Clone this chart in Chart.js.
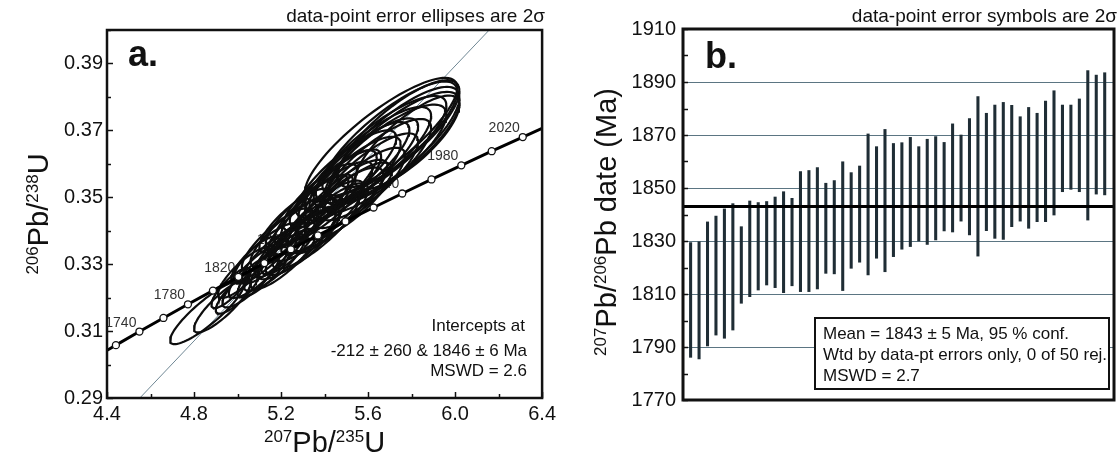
<!DOCTYPE html>
<html>
<head>
<meta charset="utf-8">
<script src="https://cdn.jsdelivr.net/npm/chart.js@4.4.1/dist/chart.umd.min.js"></script>
<style>
  html, body { margin: 0; padding: 0; background: #fff; }
  #wrap { position: relative; width: 1120px; height: 458px; background: #fff; }
  canvas { position: absolute; top: 0; }
  #concordiaChart { left: 0; }
  #ageChart { left: 560px; }
</style>
</head>
<body>
<div id="wrap">
  <canvas id="concordiaChart" width="560" height="458"></canvas>
  <canvas id="ageChart" width="560" height="458"></canvas>
</div>
<script>
const FONT = "'Liberation Sans', Arial, Helvetica, sans-serif";

// ---- panel a: concordia marks (Ma) with their 207Pb/235U and 206Pb/238U ratios
const concAge = [1700, 1720, 1740, 1760, 1780, 1800, 1820, 1840, 1860, 1880, 1900, 1920, 1940, 1960, 1980, 2000, 2020, 2040];
const conc207 = [4.3348, 4.4409, 4.5491, 4.6595, 4.7721, 4.8869, 5.0040, 5.1234, 5.2452, 5.3695, 5.4962, 5.6254, 5.7572, 5.8916, 6.0287, 6.1685, 6.3111, 6.4566];
const conc206 = [0.30175, 0.30580, 0.30986, 0.31393, 0.31801, 0.32211, 0.32621, 0.33033, 0.33447, 0.33861, 0.34277, 0.34695, 0.35113, 0.35533, 0.35954, 0.36377, 0.36800, 0.37225];
const concLabelAges = [1740, 1780, 1820, 1860, 1900, 1940, 1980, 2020];

// discordia (regression line) end points
const discX = [4.551, 6.157];
const discY = [0.29, 0.40];

// error ellipses (2 sigma): centre, half-widths, correlation
const ellX = [4.86, 4.93, 4.97, 5.00, 5.03, 5.06, 5.08, 5.10, 5.12, 5.13,
              5.15, 5.17, 5.18, 5.20, 5.21, 5.23, 5.24, 5.26, 5.27, 5.29,
              5.30, 5.32, 5.33, 5.35, 5.36, 5.38, 5.39, 5.41, 5.42, 5.44,
              5.45, 5.47, 5.48, 5.50, 5.51, 5.53, 5.55, 5.56, 5.58, 5.60,
              5.62, 5.64, 5.66, 5.68, 5.70, 5.72, 5.74, 5.66, 5.72, 5.78];
const ellY = [0.3156, 0.3176, 0.3229, 0.3217, 0.3274, 0.3251, 0.3313, 0.3284, 0.3276, 0.3332,
              0.3323, 0.3305, 0.3372, 0.3342, 0.3316, 0.3392, 0.3355, 0.3430, 0.3360, 0.3417,
              0.3368, 0.3455, 0.3405, 0.3463, 0.3402, 0.3500, 0.3440, 0.3487, 0.3437, 0.3525,
              0.3464, 0.3533, 0.3492, 0.3570, 0.3489, 0.3556, 0.3590, 0.3528, 0.3596, 0.3561,
              0.3620, 0.3594, 0.3643, 0.3627, 0.3676, 0.3650, 0.3690, 0.3672, 0.3660, 0.3664];
const ellSX = [0.17, 0.13, 0.09, 0.10, 0.12, 0.13, 0.11, 0.14, 0.12, 0.15,
               0.13, 0.14, 0.16, 0.12, 0.15, 0.17, 0.13, 0.16, 0.18, 0.15,
               0.17, 0.19, 0.16, 0.18, 0.20, 0.17, 0.19, 0.21, 0.18, 0.20,
               0.22, 0.19, 0.21, 0.23, 0.20, 0.22, 0.24, 0.21, 0.25, 0.23,
               0.27, 0.25, 0.30, 0.28, 0.31, 0.30, 0.28, 0.35, 0.30, 0.24];
const ellSY = [0.0095, 0.0080, 0.0060, 0.0065, 0.0075, 0.0080, 0.0070, 0.0085, 0.0075, 0.0090,
               0.0080, 0.0085, 0.0095, 0.0080, 0.0090, 0.0100, 0.0085, 0.0095, 0.0105, 0.0090,
               0.0100, 0.0110, 0.0095, 0.0105, 0.0115, 0.0100, 0.0110, 0.0120, 0.0105, 0.0115,
               0.0125, 0.0110, 0.0120, 0.0130, 0.0115, 0.0125, 0.0135, 0.0120, 0.0140, 0.0130,
               0.0150, 0.0140, 0.0160, 0.0150, 0.0170, 0.0165, 0.0160, 0.0185, 0.0170, 0.0140];
const ellRho = [0.88, 0.86, 0.83, 0.83, 0.84, 0.85, 0.83, 0.84, 0.83, 0.84,
                0.83, 0.84, 0.84, 0.82, 0.83, 0.84, 0.82, 0.83, 0.84, 0.82,
                0.83, 0.84, 0.82, 0.83, 0.84, 0.82, 0.83, 0.84, 0.82, 0.83,
                0.83, 0.81, 0.82, 0.83, 0.81, 0.82, 0.83, 0.81, 0.83, 0.81,
                0.82, 0.81, 0.82, 0.80, 0.82, 0.81, 0.80, 0.84, 0.81, 0.80];

// ---- panel b: 207Pb/206Pb dates, 2 sigma ranges (Ma), ranked
const ageLo = [1786.1, 1785.5, 1790.4, 1794.5, 1793.3, 1796.4, 1806.5, 1809.0, 1811.5, 1813.4,
               1812.4, 1810.5, 1813.1, 1810.9, 1810.9, 1811.9, 1817.8, 1817.6, 1811.3, 1819.7,
               1822.0, 1817.2, 1823.5, 1818.4, 1824.1, 1826.9, 1827.9, 1830.0, 1828.7, 1830.4,
               1833.8, 1833.4, 1837.5, 1832.3, 1824.3, 1833.9, 1831.0, 1830.6, 1835.4, 1837.5,
               1834.8, 1837.3, 1837.3, 1839.8, 1848.6, 1849.5, 1848.6, 1837.9, 1847.7, 1847.4];
const ageHi = [1829.4, 1829.7, 1837.2, 1839.4, 1842.1, 1844.1, 1835.4, 1845.1, 1844.5, 1844.9,
               1846.6, 1848.6, 1846.1, 1856.2, 1856.6, 1857.7, 1851.8, 1852.8, 1859.9, 1855.8,
               1858.3, 1870.4, 1865.6, 1872.1, 1866.8, 1867.1, 1869.1, 1865.6, 1868.4, 1869.4,
               1867.2, 1874.2, 1870.0, 1876.2, 1884.5, 1878.2, 1881.3, 1882.3, 1881.2, 1876.9,
               1880.4, 1878.2, 1882.8, 1886.7, 1881.3, 1881.3, 1883.6, 1894.3, 1892.6, 1893.5];
const meanAge = 1843;
const rankMin = 0.1;
const rankMax = 51.1;

Chart.defaults.font.family = FONT;
Chart.defaults.color = '#111';

function drawRich(ctx, parts, size, x, y, rotate) {
  const supSize = Math.round(size * 0.57);
  ctx.save();
  ctx.translate(x, y);
  if (rotate) ctx.rotate(-Math.PI / 2);
  let total = 0;
  parts.forEach(p => {
    ctx.font = (p.sup ? supSize : size) + 'px ' + FONT;
    total += ctx.measureText(p.t).width;
  });
  let cx = -total / 2;
  ctx.textAlign = 'left';
  ctx.textBaseline = 'alphabetic';
  ctx.fillStyle = '#111';
  parts.forEach(p => {
    ctx.font = (p.sup ? supSize : size) + 'px ' + FONT;
    ctx.fillText(p.t, cx, p.sup ? -size * 0.36 : 0);
    cx += ctx.measureText(p.t).width;
  });
  ctx.restore();
}

// ---------- panel a ----------
const ellipseSets = ellX.map((cx, i) => {
  const r = ellRho[i];
  const k = Math.sqrt(1 - r * r);
  const pts = [];
  for (let a = 0; a <= 360; a += 4) {
    const t = a * Math.PI / 180;
    pts.push({
      x: cx + ellSX[i] * Math.cos(t),
      y: ellY[i] + ellSY[i] * (r * Math.cos(t) + k * Math.sin(t))
    });
  }
  return {
    data: pts,
    showLine: true,
    borderColor: '#0d0d0d',
    borderWidth: 2.2,
    pointRadius: 0,
    order: 2,
    clip: 0
  };
});

const panelA = {
  id: 'panelA',
  beforeDatasetsDraw(chart) {
    const ctx = chart.ctx;
    const xs = chart.scales.x, ys = chart.scales.y;
    ctx.save();
    ctx.font = '14px ' + FONT;
    ctx.fillStyle = '#333';
    ctx.textAlign = 'right';
    ctx.textBaseline = 'alphabetic';
    concLabelAges.forEach(age => {
      const i = concAge.indexOf(age);
      const px = xs.getPixelForValue(conc207[i]);
      const py = ys.getPixelForValue(conc206[i]);
      ctx.fillText(String(age), px - 3, py - 5);
    });
    ctx.restore();
  },
  afterDraw(chart) {
    const ctx = chart.ctx;
    const a = chart.chartArea;
    const xs = chart.scales.x, ys = chart.scales.y;
    ctx.save();
    // inward ticks
    ctx.strokeStyle = '#111';
    ctx.lineWidth = 1.5;
    ys.ticks.forEach(t => {
      const major = Math.round(t.value * 100) % 2 === 1;
      const py = Math.round(ys.getPixelForValue(t.value)) + 0.5;
      ctx.beginPath();
      ctx.moveTo(a.left, py);
      ctx.lineTo(a.left + (major ? 6 : 4), py);
      ctx.stroke();
    });
    xs.ticks.forEach(t => {
      const major = Math.round(t.value * 10) % 4 === 0;
      const px = Math.round(xs.getPixelForValue(t.value)) + 0.5;
      ctx.beginPath();
      ctx.moveTo(px, a.bottom);
      ctx.lineTo(px, a.bottom - (major ? 6 : 4));
      ctx.stroke();
    });
    // frame
    ctx.lineWidth = 2.5;
    ctx.strokeRect(a.left, a.top, a.right - a.left, a.bottom - a.top);

    // texts
    ctx.fillStyle = '#111';
    ctx.font = 'bold 36px ' + FONT;
    ctx.textAlign = 'left';
    ctx.fillText('a.', 128, 66);

    ctx.font = '19px ' + FONT;
    ctx.textAlign = 'right';
    ctx.fillText('data-point error ellipses are 2\u03c3', 545, 22);

    ctx.font = '17px ' + FONT;
    ctx.fillText('Intercepts at', 525, 331);
    ctx.fillText('-212 \u00b1 260 & 1846 \u00b1 6 Ma', 527, 356);
    ctx.fillText('MSWD = 2.6', 527, 376);
    ctx.restore();

    drawRich(ctx, [{t: '206', sup: true}, {t: 'Pb/'}, {t: '238', sup: true}, {t: 'U'}],
      29, 48, (a.top + a.bottom) / 2, true);
    drawRich(ctx, [{t: '207', sup: true}, {t: 'Pb/'}, {t: '235', sup: true}, {t: 'U'}],
      29, (a.left + a.right) / 2, 452, false);
  }
};

new Chart(document.getElementById('concordiaChart'), {
  type: 'scatter',
  data: {
    datasets: [
      {
        data: concAge.map((t, i) => ({x: conc207[i], y: conc206[i]})),
        showLine: true,
        borderColor: '#000',
        borderWidth: 3,
        pointRadius: 3.5,
        pointBackgroundColor: '#fff',
        pointBorderColor: '#111',
        pointBorderWidth: 1.3,
        order: 0,
        clip: 0
      },
      {
        data: discX.map((x, i) => ({x: x, y: discY[i]})),
        showLine: true,
        borderColor: '#6f8794',
        borderWidth: 1,
        pointRadius: 0,
        order: 3,
        clip: 0
      },
      ...ellipseSets
    ]
  },
  options: {
    responsive: false,
    animation: false,
    events: [],
    layout: {padding: {top: 30, right: 15, left: 0, bottom: 0}},
    plugins: {legend: {display: false}, tooltip: {enabled: false}},
    scales: {
      x: {
        type: 'linear', min: 4.4, max: 6.4,
        grid: {display: false, drawTicks: false},
        border: {display: false},
        ticks: {
          stepSize: 0.2, autoSkip: false, maxRotation: 0, padding: 4,
          font: {size: 20}, color: '#111',
          callback: v => (Math.round(v * 10) % 4 === 0 ? v.toFixed(1) : '')
        },
        afterFit: s => { s.height = 60; }
      },
      y: {
        type: 'linear', min: 0.29, max: 0.40,
        grid: {display: false, drawTicks: false},
        border: {display: false},
        ticks: {
          stepSize: 0.01, autoSkip: false, padding: 4,
          font: {size: 20}, color: '#111',
          callback: v => (Math.round(v * 100) % 2 === 1 ? v.toFixed(2) : '')
        },
        afterFit: s => { s.width = 107; }
      }
    }
  },
  plugins: [panelA]
});

// ---------- panel b ----------
const panelB = {
  id: 'panelB',
  afterDraw(chart) {
    const ctx = chart.ctx;
    const a = chart.chartArea;
    const ys = chart.scales.y;
    ctx.save();
    ctx.strokeStyle = '#111';
    ctx.lineWidth = 1.5;
    ys.ticks.forEach(t => {
      const py = Math.round(ys.getPixelForValue(t.value)) + 0.5;
      ctx.beginPath();
      ctx.moveTo(a.left, py);
      ctx.lineTo(a.left + 5, py);
      ctx.stroke();
    });
    ctx.lineWidth = 3;
    ctx.strokeRect(a.left, a.top, a.right - a.left, a.bottom - a.top);

    // result box
    ctx.fillStyle = '#fff';
    ctx.fillRect(255, 318, 294, 71);
    ctx.lineWidth = 2;
    ctx.strokeStyle = '#111';
    ctx.strokeRect(255, 318, 294, 71);
    ctx.fillStyle = '#111';
    ctx.font = '17px ' + FONT;
    ctx.textAlign = 'left';
    ctx.fillText('Mean = 1843 \u00b1 5 Ma, 95 % conf.', 263, 339);
    ctx.fillText('Wtd by data-pt errors only, 0 of 50 rej.', 263, 360);
    ctx.fillText('MSWD = 2.7', 263, 381);

    ctx.font = 'bold 36px ' + FONT;
    ctx.fillText('b.', 145, 68);

    ctx.font = '19px ' + FONT;
    ctx.textAlign = 'right';
    ctx.fillText('data-point error symbols are 2\u03c3', 557, 22);
    ctx.restore();

    drawRich(ctx, [{t: '207', sup: true}, {t: 'Pb/'}, {t: '206', sup: true}, {t: 'Pb date (Ma)'}],
      29, 56, 222, true);
  }
};

new Chart(document.getElementById('ageChart'), {
  type: 'bar',
  data: {
    datasets: [
      {
        type: 'line',
        data: [{x: rankMin, y: meanAge}, {x: rankMax, y: meanAge}],
        borderColor: '#000',
        borderWidth: 3,
        pointRadius: 0,
        order: 0
      },
      {
        type: 'bar',
        data: ageLo.map((lo, i) => ({x: i + 1, y: [lo, ageHi[i]]})),
        backgroundColor: '#1f2d35',
        barThickness: 2.4,
        order: 1
      }
    ]
  },
  options: {
    responsive: false,
    animation: false,
    events: [],
    layout: {padding: {top: 29, right: 6, left: 0, bottom: 58}},
    plugins: {legend: {display: false}, tooltip: {enabled: false}},
    scales: {
      x: {type: 'linear', min: rankMin, max: rankMax, offset: false, display: false},
      y: {
        type: 'linear', min: 1770, max: 1910,
        grid: {
          drawTicks: false,
          lineWidth: 1,
          color: c => {
            const v = c.tick ? c.tick.value : 0;
            return (v > 1770 && v < 1910 && (v - 1770) % 20 === 0) ? '#5b7582' : 'rgba(0,0,0,0)';
          }
        },
        border: {display: false},
        ticks: {
          stepSize: 10, autoSkip: false, padding: 7,
          font: {size: 20}, color: '#111',
          callback: v => ((v - 1770) % 20 === 0 ? String(v) : '')
        },
        afterFit: s => { s.width = 123; }
      }
    }
  },
  plugins: [panelB]
});
</script>
</body>
</html>
